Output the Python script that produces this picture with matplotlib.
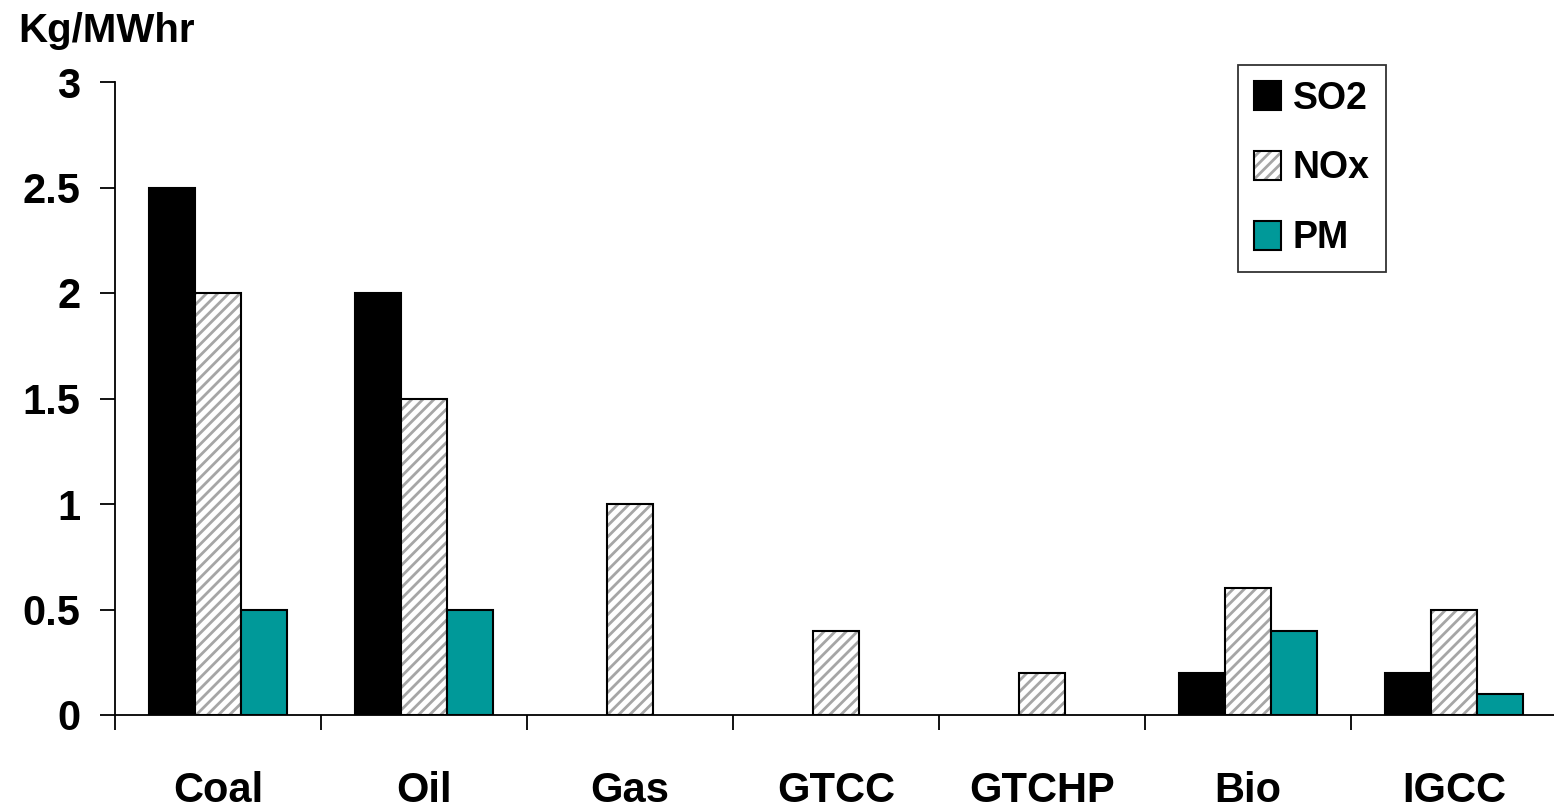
import matplotlib
matplotlib.use("Agg")
import matplotlib.pyplot as plt
import numpy as np
from matplotlib.patches import Patch
from matplotlib.legend_handler import HandlerTuple

categories = ["Coal", "Oil", "Gas", "GTCC", "GTCHP", "Bio", "IGCC"]
so2 = [2.5, 2.0, 0.0, 0.0, 0.0, 0.2, 0.2]
nox = [2.0, 1.5, 1.0, 0.4, 0.2, 0.6, 0.5]
pm = [0.5, 0.5, 0.0, 0.0, 0.0, 0.4, 0.1]
series_names = ["SO2", "NOx", "PM"]
yticks = [0, 0.5, 1, 1.5, 2, 2.5, 3]
ytick_labels = ["0", "0.5", "1", "1.5", "2", "2.5", "3"]
unit_label = "Kg/MWhr"

plt.rcParams['font.family'] = ['Liberation Sans', 'DejaVu Sans']
plt.rcParams['font.weight'] = 'bold'
plt.rcParams['hatch.linewidth'] = 2.0

W, H = 1554, 808
fig = plt.figure(figsize=(W / 100, H / 100), dpi=100)
left, right, bottom, top = 115, 1557, 715, 82
ax = fig.add_axes([left / W, 1 - bottom / H, (right - left) / W, (bottom - top) / H])

x = np.arange(len(categories))
bw = 0.222
teal = '#009999'
hatch_gray = '#a6a6a6'

# SO2 - solid black
b1 = ax.bar(x - bw, so2, bw, color='black', edgecolor='black', linewidth=1.5)
# NOx - gray hatch on white with black outline
b2h = ax.bar(x, nox, bw, facecolor='white', edgecolor=hatch_gray, hatch='///', linewidth=0)
b2o = ax.bar(x, nox, bw, facecolor='none', edgecolor='black', linewidth=1.5)
# PM - teal
b3 = ax.bar(x + bw, pm, bw, color=teal, edgecolor='black', linewidth=1.5)

# hide zero-height bars
for cont, vals in ((b1, so2), (b3, pm), (b2h, nox), (b2o, nox)):
    for p, v in zip(cont, vals):
        if v == 0:
            p.set_visible(False)

ax.set_xlim(-0.5, len(categories) - 0.5)
ax.set_ylim(0, 3)
ax.spines['top'].set_visible(False)
ax.spines['right'].set_visible(False)
for s in ('left', 'bottom'):
    ax.spines[s].set_linewidth(1.3)

ax.set_yticks(yticks)
ax.set_yticklabels(ytick_labels, fontsize=30, fontweight='bold')
ax.tick_params(axis='y', length=11, width=1.3, pad=14)

ax.set_xticks(x)
ax.set_xticklabels(categories, fontsize=30, fontweight='bold')
ax.tick_params(axis='x', which='major', length=0, pad=40)
ax.set_xticks(np.arange(len(categories) + 1) - 0.5, minor=True)
ax.tick_params(axis='x', which='minor', length=11, width=1.3)

fig.text(18 / W, 1 - 42 / H, unit_label, fontsize=29, fontweight='bold', va='baseline', ha='left')

h_so2 = Patch(facecolor='black', edgecolor='black', linewidth=1.5)
h_nox = (Patch(facecolor='white', edgecolor=hatch_gray, hatch='///', linewidth=0),
         Patch(facecolor='none', edgecolor='black', linewidth=1.5))
h_pm = Patch(facecolor=teal, edgecolor='black', linewidth=1.5)
leg = ax.legend([h_so2, h_nox, h_pm], series_names,
                handler_map={tuple: HandlerTuple(ndivide=1, pad=0)},
                loc='upper left', bbox_to_anchor=(1238 / W, 1 - 65 / H),
                bbox_transform=fig.transFigure,
                prop={'weight': 'bold', 'size': 27},
                frameon=True, fancybox=False, edgecolor='black',
                handlelength=0.72, handleheight=0.83, handletextpad=0.32,
                labelspacing=0.9, borderpad=0.42, borderaxespad=0)
leg.get_frame().set_linewidth(1.3)

fig.savefig("out.png", dpi=100)
